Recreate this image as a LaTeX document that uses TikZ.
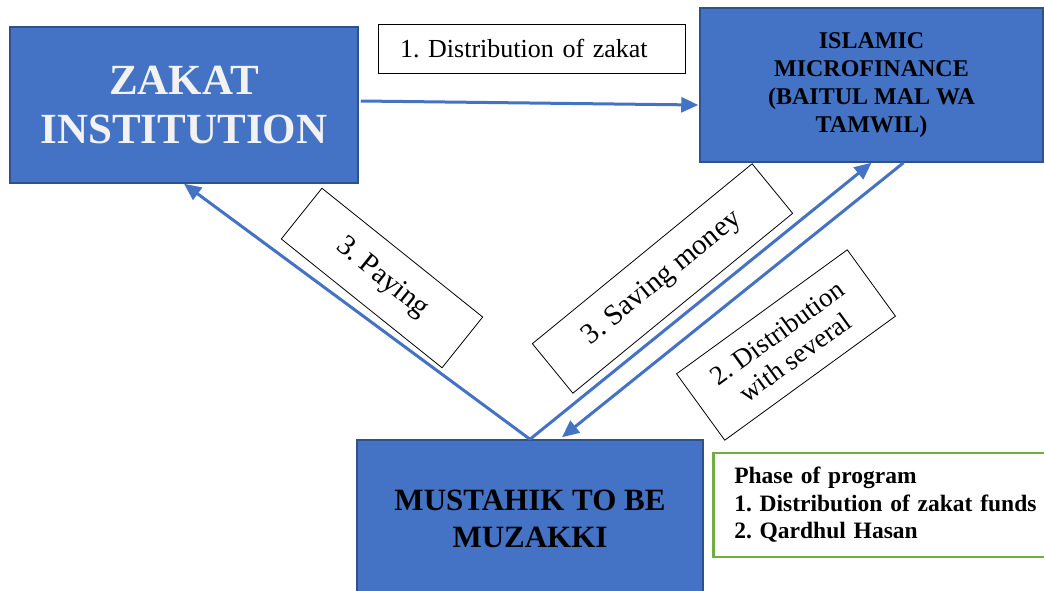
\documentclass[tikz,border=0pt]{standalone}
\usepackage{fontspec}
\setmainfont{Liberation Serif}
\usetikzlibrary{arrows.meta,calc}
\definecolor{boxblue}{HTML}{4472C4}
\definecolor{edgeblue}{HTML}{2F528F}
\definecolor{phasegreen}{HTML}{70AD47}
\definecolor{zakatwhite}{HTML}{F2F2F2}
\frenchspacing

\begin{document}
\begin{tikzpicture}[x=1pt, y=-1pt,
		bluebox/.style={draw=edgeblue, line width=1.5pt, fill=boxblue, align=center, inner sep=0pt},
		tagbox/.style={draw=black, line width=0.8pt, fill=white, align=center, inner sep=0pt},
		flow/.style={draw=boxblue, line width=3pt, -{Triangle[length=17pt,width=15pt]}}]
	\clip (0,0) rectangle (1044,591);
	% Boxes:
	\node[bluebox, minimum width=348pt, minimum height=156pt, text=zakatwhite, font=\bfseries\fontsize{43}{49}\selectfont] (zakat) at (184,105) {ZAKAT\\INSTITUTION};
	\node[bluebox, minimum width=343pt, minimum height=154pt, font=\bfseries\fontsize{24}{28}\selectfont] (bmt) at (871.5,85) {ISLAMIC\\MICROFINANCE\\(BAITUL MAL WA\\TAMWIL)};
	\node[bluebox, minimum width=346pt, minimum height=158pt, font=\bfseries\fontsize{31}{37}\selectfont] (mustahik) at (530,519) {MUSTAHIK TO BE\\MUZAKKI};
	\node[draw=phasegreen, line width=2.5pt, fill=white, inner xsep=21pt, inner ysep=0pt, minimum height=104pt, text width=320pt, align=left, anchor=west, font=\bfseries\fontsize{23.5}{27.5}\selectfont] (phase) at (712,505) {Phase of program\\1. Distribution of zakat funds\\2. Qardhul Hasan};
	% Arrows:
	\draw[flow] ($(zakat.east)+(2,-4)$) -- ($(bmt.west)+(-1,20)$);
	\draw[flow] (mustahik.north) -- (zakat.south);
	\draw[flow] (mustahik.north) -- (bmt.south);
	\draw[flow] ($(bmt.south)+(32,0)$) -- ($(mustahik.north)+(32,-2)$);
	% Labels:
	\node[tagbox, minimum width=307pt, minimum height=49pt, text width=263pt, align=left, font=\fontsize{26}{30}\selectfont] (dist) at (531.5,48.5) {1. Distribution of zakat};
	\node[tagbox, rotate=-38.7, minimum width=206pt, minimum height=65pt, font=\fontsize{29}{33}\selectfont] (paying) at (382,278) {3. Paying};
	\node[tagbox, rotate=39.3, minimum width=284pt, minimum height=64pt, font=\fontsize{29}{33}\selectfont] (saving) at (662.5,278.5) {3. Saving money};
	\node[tagbox, rotate=36, minimum width=211pt, minimum height=82pt, font=\fontsize{27}{30}\selectfont] (several) at (786,345) {2. Distribution\\with several};
\end{tikzpicture}
\end{document}
